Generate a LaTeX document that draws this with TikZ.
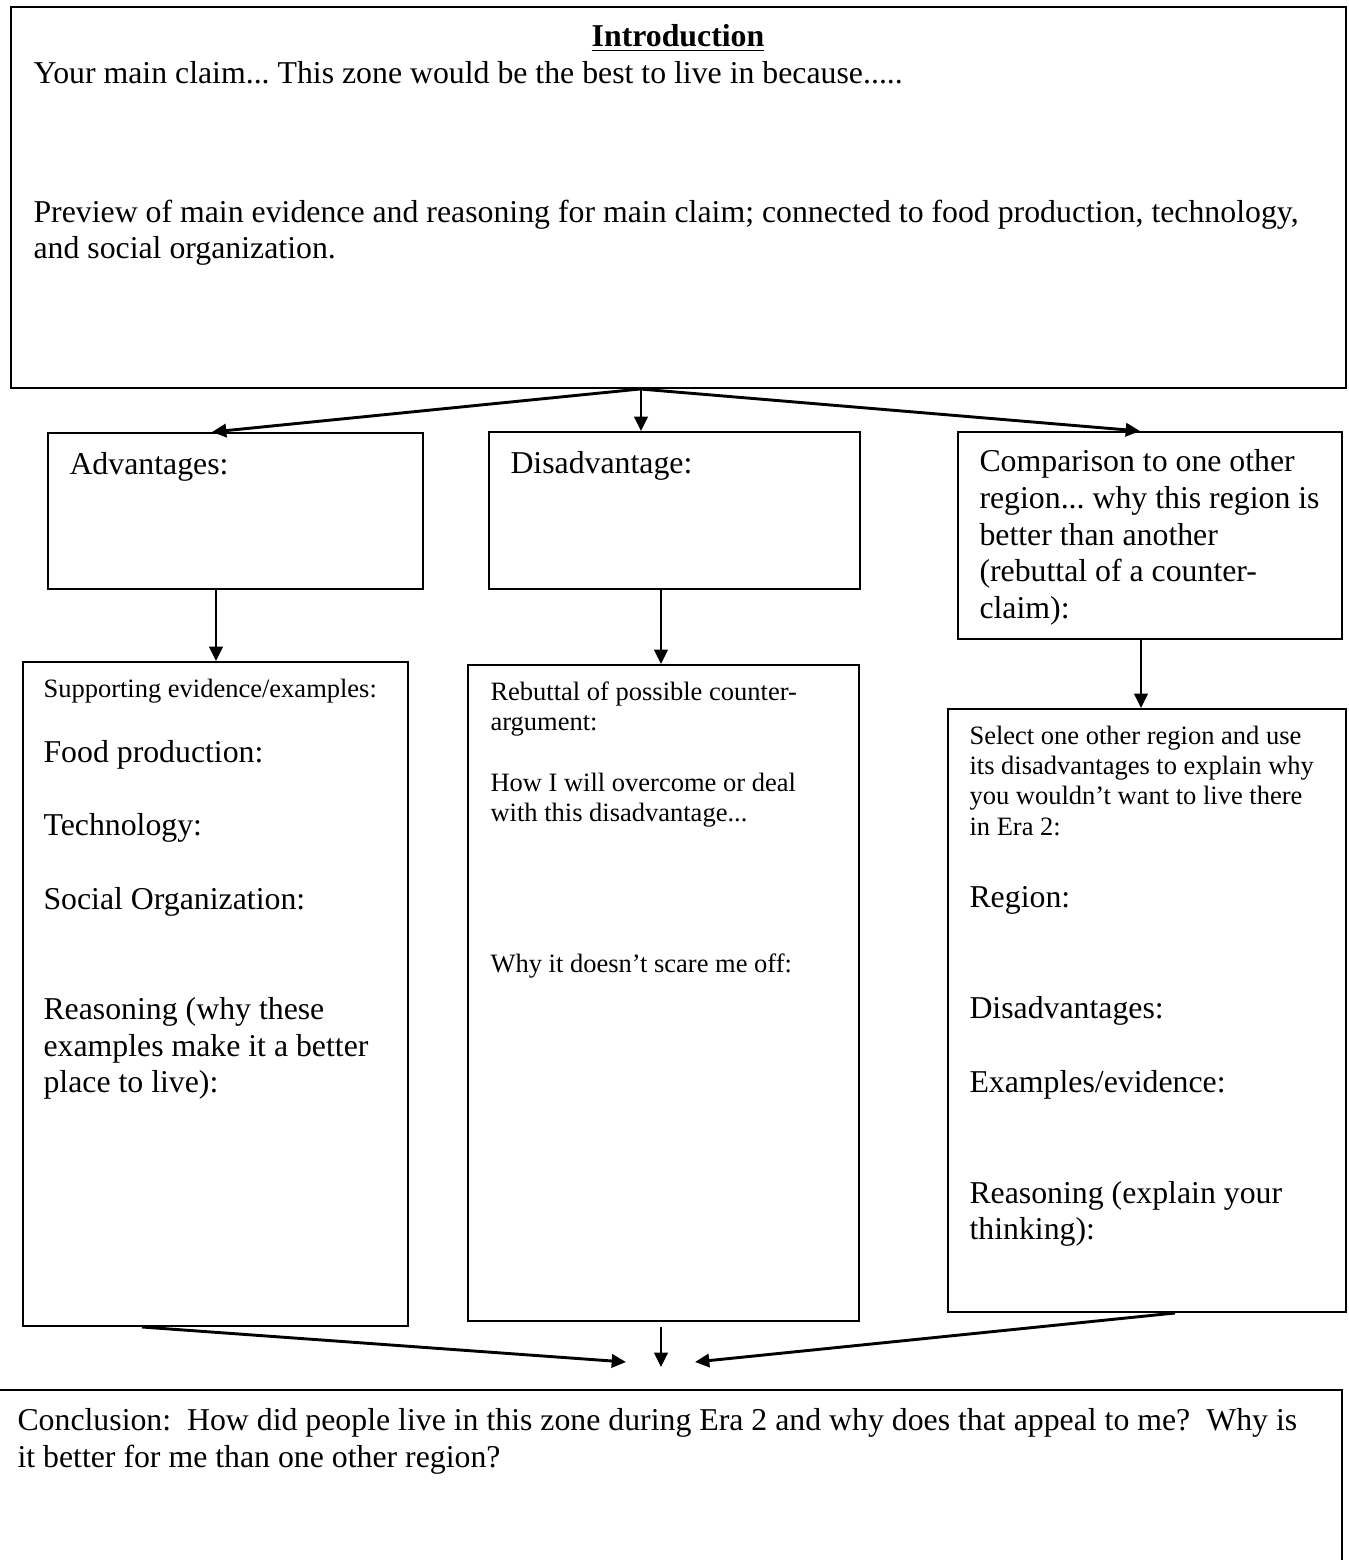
\documentclass[tikz,border=0pt]{standalone}
\usepackage{fontspec}
\setmainfont{Liberation Serif}
\usetikzlibrary{arrows.meta,fit}
\newcommand{\bigtxt}{\fontsize{12}{13.85}\selectfont}
\newcommand{\smalltxt}{\fontsize{10}{11.4}\selectfont}
\frenchspacing
\begin{document}
\begin{tikzpicture}[x=0.3774pt,y=-0.3774pt,
  box/.style={draw=black,line width=0.75pt,inner sep=0pt,rectangle},
  arr/.style={draw=black,line width=1.1pt,-{Triangle[length=5.4pt,width=5pt]}},
  lt/.style={anchor=base west,inner sep=0pt,font=\bigtxt},
  st/.style={anchor=base west,inner sep=0pt,font=\smalltxt}]
\useasboundingbox (0,0) rectangle (1349,1560);
\fill[white] (0,0) rectangle (1349,1560);

% boxes
\node[box,fit={(11,7) (1346,388)}] (intro) {};
\node[box,fit={(48,433) (423,589)}] (adv) {};
\node[box,fit={(489,432) (860,589)}] (dis) {};
\node[box,fit={(958,432) (1342,639)}] (comp) {};
\node[box,fit={(23,662) (408,1326)}] (sup) {};
\node[box,fit={(468,665) (859,1321)}] (reb) {};
\node[box,fit={(948,709) (1346,1312)}] (sel) {};
\draw[line width=0.75pt] (0,1390) -- (1342,1390) -- (1342,1560);

% intro text
\node[anchor=base,inner sep=0pt,font=\bigtxt] (ttl) at (678,46) {\underline{\textbf{Introduction}}};
\node[lt] (i1) at (33,83) {Your main claim... This zone would be the best to live in because.....};
\node[lt] (i2) at (33,222) {Preview of main evidence and reasoning for main claim; connected to food production, technology,};
\node[lt] (i3) at (33,258.7) {and social organization.};

% second row
\node[lt] (a1) at (69,474) {Advantages:};
\node[lt] (d1) at (510,473) {Disadvantage:};
\node[lt] (c1) at (979,471.7) {Comparison to one other};
\node[lt] (c2) at (979,508.4) {region... why this region is};
\node[lt] (c3) at (979,545.1) {better than another};
\node[lt] (c4) at (979,581.8) {(rebuttal of a counter-};
\node[lt] (c5) at (979,618.5) {claim):};

% left column
\node[st] (s1) at (43,697) {Supporting evidence/examples:};
\node[lt] (s2) at (43,762) {Food production:};
\node[lt] (s3) at (43,835.6) {Technology:};
\node[lt] (s4) at (43,909) {Social Organization:};
\node[lt] (s5) at (43,1019.5) {Reasoning (why these};
\node[lt] (s6) at (43,1056.2) {examples make it a better};
\node[lt] (s7) at (43,1092.9) {place to live):};

% middle column
\node[st] (r1) at (490,700) {Rebuttal of possible counter-};
\node[st] (r2) at (490,730.3) {argument:};
\node[st] (r3) at (490,791) {How I will overcome or deal};
\node[st] (r4) at (490,821.3) {with this disadvantage...};
\node[st] (r5) at (490,972.5) {Why it doesn’t scare me off:};

% right column
\node[st] (e1) at (969,744) {Select one other region and use};
\node[st] (e2) at (969,774.3) {its disadvantages to explain why};
\node[st] (e3) at (969,804.6) {you wouldn’t want to live there};
\node[st] (e4) at (969,835) {in Era 2:};
\node[lt] (e5) at (969,907) {Region:};
\node[lt] (e6) at (969,1018) {Disadvantages:};
\node[lt] (e7) at (969,1092) {Examples/evidence:};
\node[lt] (e8) at (969,1203) {Reasoning (explain your};
\node[lt] (e9) at (969,1239.7) {thinking):};

% conclusion
\node[lt] (k1) at (17,1430) {Conclusion:\ \ How did people live in this zone during Era 2 and why does that appeal to me?\ \ Why is};
\node[lt] (k2) at (17,1467) {it better for me than one other region?};

% connector anchors
\coordinate (xs) at (640,0);
\coordinate (xa) at (212,0);
\coordinate (xd) at (641,0);
\coordinate (xc) at (1140,0);
\coordinate (xl) at (216,0);
\coordinate (xm) at (661,0);
\coordinate (xr) at (1141,0);
\draw[arr] (intro.south -| xs) -- (adv.north -| xa);
\draw[arr] (intro.south -| xd) -- (dis.north -| xd);
\draw[arr] (intro.south -| xs) -- (comp.north -| xc);
\draw[arr] (adv.south -| xl) -- (sup.north -| xl);
\draw[arr] (dis.south -| xm) -- (reb.north -| xm);
\draw[arr] (comp.south -| xr) -- (sel.north -| xr);

% bottom arrows
\coordinate (bl) at (142,1327);
\coordinate (bm) at (661,1327);
\coordinate (tl) at (626,1362);
\coordinate (tm) at (661,1367);
\coordinate (tr) at (695,1362);
\coordinate (br) at (1175,1312);
\draw[arr] (sup.south -| bl) -- (tl);
\draw[arr] (bm) -- (tm);
\draw[arr] (sel.south -| br) -- (tr);
\end{tikzpicture}
\end{document}
